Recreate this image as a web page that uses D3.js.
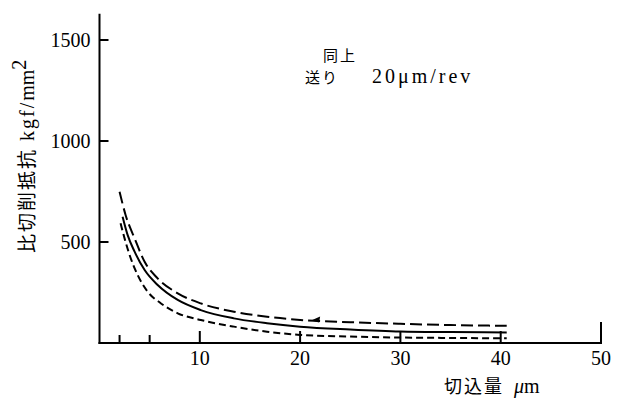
<!DOCTYPE html>
<html>
<head>
    <meta charset="utf-8">
    <script src="https://d3js.org/d3.v7.min.js"></script>
    <style>
        body, html { margin: 0; padding: 0; background: #fff; }
        svg { display: block; }
        .axis line, .axis path { stroke: #000; stroke-width: 2px; }
        .tick-label { font-family: "Liberation Serif", serif; font-size: 20px; fill: #000; }
        .jp { font-family: "Noto Sans CJK JP", sans-serif; fill: #000; }
        .curve { fill: none; stroke: #000; stroke-width: 2px; }
    </style>
</head>
<body>
<svg width="625" height="401"></svg>
<script>
    // values
    const yTicks = [500, 1000, 1500];
    const xMajorTicks = [10, 20, 30, 40];
    const xMinorTicks = [2, 5];
    const xEndTick = 50;

    const longDashX = [2.0, 2.6, 3.5, 4.5, 5.8, 7.8, 10.1, 13.4, 16.7, 20.0, 25, 30, 35, 40.6];
    const longDashY = [749, 634, 518, 402, 320, 246, 196, 155, 130, 114, 103, 95, 89, 85];

    const solidX = [2.3, 2.8, 3.5, 4.5, 5.8, 7.8, 10.1, 13.4, 16.7, 20.0, 25, 30, 35, 40.6];
    const solidY = [625, 535, 452, 361, 287, 213, 163, 122, 98, 81, 67, 57, 54, 52];

    const shortDashX = [2.1, 2.5, 3.0, 3.8, 4.8, 6.1, 7.8, 10.1, 13.4, 16.7, 20.0, 25, 30, 35, 40.6];
    const shortDashY = [593, 518, 436, 337, 254, 197, 147, 114, 81, 56, 40, 32, 27, 25, 23];

    const arrowAt = [21.6, 112];

    const svg = d3.select("svg");

    const x = d3.scaleLinear().domain([0, 50]).range([99.5, 601]);
    const y = d3.scaleLinear().domain([0, 1500]).range([343, 40]);
    const yTop = 1630;

    const axes = svg.append("g").attr("class", "axis");

    // y axis with inward ticks
    axes.append("line")
        .attr("x1", x(0)).attr("x2", x(0))
        .attr("y1", y(0) + 1).attr("y2", y(yTop));
    axes.selectAll(".ytick").data(yTicks).enter().append("line")
        .attr("x1", x(0)).attr("x2", x(0) + 9)
        .attr("y1", d => y(d)).attr("y2", d => y(d));
    svg.selectAll(".ylab").data(yTicks).enter().append("text")
        .attr("class", "tick-label")
        .attr("x", x(0) - 9)
        .attr("y", d => y(d) + 7)
        .attr("text-anchor", "end")
        .text(d => d);

    // x axis
    axes.append("line")
        .attr("x1", x(0) - 1).attr("x2", x(xEndTick) + 1)
        .attr("y1", y(0)).attr("y2", y(0));
    axes.selectAll(".xminor").data(xMinorTicks).enter().append("line")
        .attr("x1", d => x(d)).attr("x2", d => x(d))
        .attr("y1", y(0)).attr("y2", y(0) - 8);
    axes.selectAll(".xmajor").data(xMajorTicks).enter().append("line")
        .attr("x1", d => x(d)).attr("x2", d => x(d))
        .attr("y1", y(0)).attr("y2", y(0) - 12);
    axes.append("line")
        .attr("x1", x(xEndTick)).attr("x2", x(xEndTick))
        .attr("y1", y(0)).attr("y2", y(0) - 21);
    svg.selectAll(".xlab").data(xMajorTicks.concat([xEndTick])).enter().append("text")
        .attr("class", "tick-label")
        .attr("x", d => x(d))
        .attr("y", y(0) + 22)
        .attr("text-anchor", "middle")
        .text(d => d);

    // curves
    const line = d3.line()
        .x(d => x(d[0]))
        .y(d => y(d[1]))
        .curve(d3.curveMonotoneX);

    const series = [
        { xs: longDashX, ys: longDashY, dash: "12,5" },
        { xs: solidX, ys: solidY, dash: null },
        { xs: shortDashX, ys: shortDashY, dash: "7,4" }
    ];

    svg.selectAll(".curve").data(series).enter().append("path")
        .attr("class", "curve")
        .attr("stroke-dasharray", d => d.dash)
        .attr("d", d => line(d.xs.map((v, i) => [v, d.ys[i]])));

    // small arrowhead on the long dash curve, pointing left
    const ax = x(arrowAt[0]), ay = y(arrowAt[1]);
    svg.append("path")
        .attr("d", `M${ax - 5},${ay} L${ax + 4},${ay - 4} L${ax + 3},${ay + 2} Z`)
        .attr("fill", "#000");

    // annotation
    svg.append("text").attr("class", "jp")
        .attr("x", 323).attr("y", 61)
        .attr("font-size", 15)
        .attr("letter-spacing", 2)
        .text("同上");
    svg.append("text").attr("class", "jp")
        .attr("x", 305).attr("y", 83)
        .attr("font-size", 15)
        .attr("letter-spacing", 2)
        .text("送り");
    svg.append("text").attr("class", "tick-label")
        .attr("x", 372).attr("y", 83)
        .attr("letter-spacing", 3)
        .text("20μm/rev");

    // axis titles
    const xt = svg.append("text").attr("x", 444).attr("y", 393);
    xt.append("tspan").attr("class", "jp").attr("font-size", 18).attr("letter-spacing", 2).text("切込量");
    xt.append("tspan").attr("class", "tick-label").attr("font-style", "italic").attr("font-size", 22).attr("dx", 10).text("μ");
    xt.append("tspan").attr("class", "tick-label").attr("font-size", 22).text("m");

    const yt = svg.append("text")
        .attr("transform", "translate(34,253) rotate(-90)");
    yt.append("tspan").attr("class", "jp").attr("font-size", 19).attr("letter-spacing", 2).text("比切削抵抗");
    yt.append("tspan").attr("class", "tick-label").attr("dx", 7).attr("letter-spacing", 2).text("kgf/");
    yt.append("tspan").attr("class", "tick-label").attr("font-size", 13).text("mm");
    yt.append("tspan").attr("class", "tick-label").attr("font-size", 12).attr("dy", -8).text("2");
</script>
</body>
</html>
